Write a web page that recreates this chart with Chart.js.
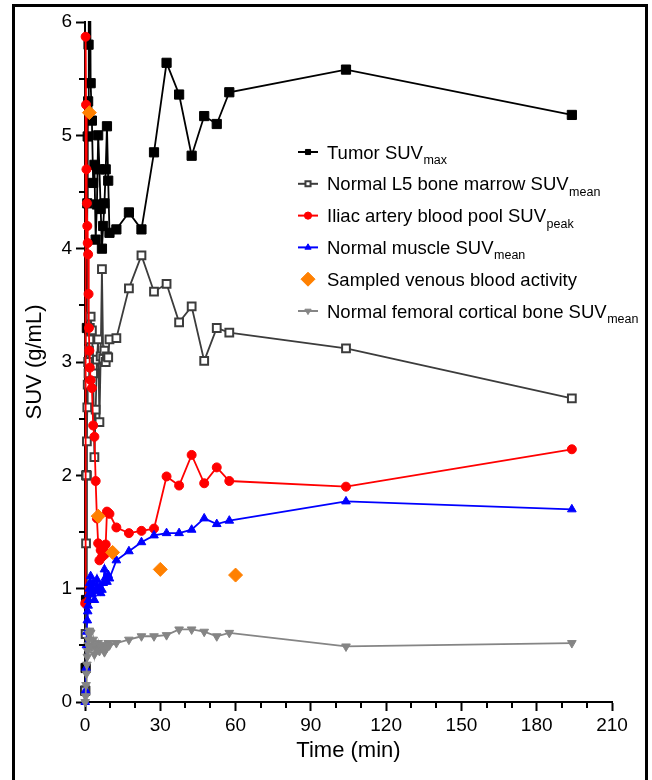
<!DOCTYPE html>
<html>
<head>
<meta charset="utf-8">
<script src="https://cdn.jsdelivr.net/npm/chart.js@4.4.1/dist/chart.umd.min.js"></script>
<style>
  html, body { margin: 0; padding: 0; background: #fff; overflow: hidden; }
  #wrap { position: relative; width: 652px; height: 780px; }
  #frame { position: absolute; left: 12px; top: 4px; width: 630px; height: 800px; border: 3px solid #000; pointer-events: none; }
  canvas { position: absolute; left: 0; top: 0; }
</style>
</head>
<body>
<div id="wrap">
  <canvas id="chart" width="652" height="780"></canvas>
  <div id="frame"></div>
</div>
<script>
// Frame times (min) shared by the PET series
const times = [
  0.08, 0.25, 0.42, 0.58, 0.75, 0.92, 1.08, 1.25, 1.42, 1.58, 1.75, 1.92,
  2.25, 2.75, 3.25, 3.75, 4.25, 4.75, 5.25, 5.75, 6.25, 6.75, 7.25, 7.75, 8.25, 8.75, 9.25, 9.75,
  12.5, 17.5, 22.5, 27.5, 32.5, 37.5, 42.5, 47.5, 52.5, 57.5, 104, 194,
];

const tumorSuvMax = [
  0.1, 0.3, 0.9, 2.0, 3.3, 4.4, 4.99, 5.3, 5.8, 6.6, 7.4, 7.0,
  5.46, 5.13, 4.58, 4.74, 4.08, 4.39, 5.0, 4.7, 4.35, 4.0, 4.2, 4.4, 4.7, 5.08, 4.6, 4.14,
  4.17, 4.32, 4.17, 4.85, 5.64, 5.36, 4.82, 5.17, 5.10, 5.38, 5.58, 5.18,
];

const marrowSuvMean = [
  0.1, 0.6, 1.4, 2.0, 2.3, 2.6, 2.8, 3.0, 2.9, 3.1, 3.2, 3.3,
  3.40, 3.28, 2.9, 2.16, 2.58, 3.02, 3.20, 2.47, 3.05, 3.82, 3.03, 3.10, 3.00, 3.05, 3.04, 3.20,
  3.21, 3.65, 3.94, 3.62, 3.69, 3.35, 3.49, 3.01, 3.30, 3.26, 3.12, 2.68,
];

const iliacSuvPeak = [
  0.87, 5.87, 5.27, 4.7, 4.4, 4.2, 4.05, 3.95, 3.6, 3.3, 3.1, 2.95,
  2.84, 2.77, 2.44, 2.34, 1.95, 1.62, 1.40, 1.25, 1.34, 1.28, 1.35, 1.30, 1.39, 1.68, 1.67, 1.66,
  1.54, 1.49, 1.51, 1.53, 1.99, 1.91, 2.18, 1.93, 2.07, 1.95, 1.90, 2.23,
];

const muscleSuvMean = [
  0.0, 0.1, 0.3, 0.5, 0.62, 0.72, 0.8, 0.85, 0.9, 0.95, 1.0, 1.05,
  1.11, 0.95, 1.05, 0.90, 1.00, 1.08, 0.98, 1.02, 0.96, 0.99, 1.05, 1.17, 1.10, 1.06, 1.12, 1.09,
  1.25, 1.33, 1.41, 1.47, 1.49, 1.49, 1.52, 1.62, 1.57, 1.60, 1.77, 1.70,
];

const femoralSuvMean = [
  0.0, 0.05, 0.15, 0.25, 0.33, 0.40, 0.45, 0.50, 0.55, 0.60, 0.63, 0.62,
  0.61, 0.49, 0.55, 0.42, 0.50, 0.46, 0.52, 0.45, 0.48, 0.50, 0.47, 0.44, 0.50, 0.48, 0.52, 0.50,
  0.52, 0.55, 0.58, 0.58, 0.59, 0.64, 0.64, 0.62, 0.58, 0.61, 0.49, 0.52,
];

// Blood samples were drawn at their own times
const venousTimes = [1.75, 5.25, 11, 30, 60];
const venousActivity = [5.20, 1.64, 1.32, 1.17, 1.12];

const xTicks = { min: 0, max: 210, major: 30, minor: 10 };
const yTicks = { min: 0, max: 6, major: 1, minor: 0.5 };

const FONT = "'Liberation Sans', Arial, Helvetica, sans-serif";

const toPoints = (xs, ys) => xs.map((x, i) => ({ x, y: ys[i] }));

// legend rows: main text + subscript, and which dataset supplies the symbol
const legendRows = [
  { text: "Tumor SUV", sub: "max", ds: 0 },
  { text: "Normal L5 bone marrow SUV", sub: "mean", ds: 1 },
  { text: "Iliac artery blood pool SUV", sub: "peak", ds: 2 },
  { text: "Normal muscle SUV", sub: "mean", ds: 3 },
  { text: "Sampled venous blood activity", sub: "", ds: 4 },
  { text: "Normal femoral cortical bone SUV", sub: "mean", ds: 5 },
];

const CLIP = { left: 12, right: 12, bottom: 12, top: 1 };

const series = (label, xs, ys, style) => ({
  label,
  data: toPoints(xs, ys),
  showLine: true,
  tension: 0,
  borderWidth: 1.8,
  pointBorderWidth: 1,
  clip: CLIP,
  ...style,
});

const datasets = [
  series("Tumor SUVmax", times, tumorSuvMax, {
    borderColor: "#000", backgroundColor: "#000",
    pointStyle: "rect", pointRadius: 6.5, order: 6,
  }),
  series("Normal L5 bone marrow SUVmean", times, marrowSuvMean, {
    borderColor: "#3c3c3c", backgroundColor: "#fff", pointBorderColor: "#3c3c3c",
    pointStyle: "rect", pointRadius: 5.5, pointBorderWidth: 2, order: 5,
  }),
  series("Iliac artery blood pool SUVpeak", times, iliacSuvPeak, {
    borderColor: "#ff0000", backgroundColor: "#ff0000",
    pointStyle: "circle", pointRadius: 4.5, order: 4,
  }),
  series("Normal muscle SUVmean", times, muscleSuvMean, {
    borderColor: "#0000ff", backgroundColor: "#0000ff",
    pointStyle: "triangle", pointRadius: 5, order: 3,
  }),
  series("Sampled venous blood activity", venousTimes, venousActivity, {
    showLine: false, borderColor: "#ff8000", backgroundColor: "#ff8000",
    pointStyle: "rectRot", pointRadius: 7, order: 2,
  }),
  series("Normal femoral cortical bone SUVmean", times, femoralSuvMean, {
    borderColor: "#858585", backgroundColor: "#858585",
    pointStyle: "triangle", pointRotation: 180, pointRadius: 5, order: 1,
  }),
];

// Short outer ticks between the labelled ones
const MINOR_TICKS = {
  id: "minorTicks",
  afterDraw(chart) {
    const { ctx, chartArea, scales } = chart;
    ctx.save();
    ctx.strokeStyle = "#000";
    ctx.lineWidth = 2;
    ctx.beginPath();
    for (let v = xTicks.min + xTicks.minor; v < xTicks.max; v += xTicks.minor) {
      if (v % xTicks.major === 0) continue;
      const px = Math.round(scales.x.getPixelForValue(v));
      ctx.moveTo(px, chartArea.bottom);
      ctx.lineTo(px, chartArea.bottom + 6);
    }
    for (let v = yTicks.min + yTicks.minor; v < yTicks.max; v += yTicks.minor) {
      if (Math.abs(v % yTicks.major) < 1e-9) continue;
      const py = Math.round(scales.y.getPixelForValue(v));
      ctx.moveTo(chartArea.left, py);
      ctx.lineTo(chartArea.left - 6, py);
    }
    ctx.stroke();
    ctx.restore();
  },
};

// Legend with subscripts, which the built-in legend can't do
const SUB_LEGEND = {
  id: "subLegend",
  afterDraw(chart) {
    const { ctx } = chart;
    const x0 = 298, x1 = 318, tx = 327, y0 = 152, dy = 31.8;
    ctx.save();
    legendRows.forEach((row, i) => {
      const ds = chart.data.datasets[row.ds];
      const y = y0 + i * dy;
      if (ds.showLine !== false) {
        ctx.strokeStyle = ds.borderColor;
        ctx.lineWidth = 2;
        ctx.beginPath();
        ctx.moveTo(x0, y);
        ctx.lineTo(x1, y);
        ctx.stroke();
      }
      ctx.fillStyle = ds.backgroundColor;
      ctx.strokeStyle = ds.pointBorderColor || ds.borderColor;
      ctx.lineWidth = ds.pointBorderWidth;
      const small = ds.pointStyle === "rectRot" ? 7 : 3.6;
      Chart.helpers.drawPoint(ctx, {
        pointStyle: ds.pointStyle,
        rotation: ds.pointRotation || 0,
        radius: small,
        borderWidth: ds.pointBorderWidth,
      }, (x0 + x1) / 2, y);

      ctx.fillStyle = "#000";
      ctx.textBaseline = "alphabetic";
      ctx.textAlign = "left";
      ctx.font = `18.5px ${FONT}`;
      ctx.fillText(row.text, tx, y + 6.5);
      if (row.sub) {
        const w = ctx.measureText(row.text).width;
        ctx.font = `12.5px ${FONT}`;
        ctx.fillText(row.sub, tx + w + 0.5, y + 12);
      }
    });
    ctx.restore();
  },
};

new Chart(document.getElementById("chart"), {
  type: "scatter",
  data: { datasets },
  plugins: [MINOR_TICKS, SUB_LEGEND],
  options: {
    responsive: false,
    animation: false,
    devicePixelRatio: 1,
    layout: { padding: { left: 0, right: 40, top: 22, bottom: 0 } },
    plugins: { legend: { display: false }, tooltip: { enabled: false } },
    scales: {
      x: {
        type: "linear",
        min: xTicks.min,
        max: xTicks.max,
        afterFit: (scale) => { scale.height = 78; },
        ticks: {
          stepSize: xTicks.major,
          color: "#000",
          font: { family: FONT, size: 19 },
          padding: 3,
          maxRotation: 0,
          autoSkip: false,
        },
        grid: { drawOnChartArea: false, tickLength: 9, tickWidth: 2, tickColor: "#000" },
        border: { color: "#000", width: 2 },
        title: {
          display: true,
          text: "Time (min)",
          color: "#000",
          font: { family: FONT, size: 22 },
          padding: { top: 0, bottom: 16 },
        },
      },
      y: {
        min: yTicks.min,
        max: yTicks.max,
        afterFit: (scale) => { scale.width = 85; },
        ticks: {
          stepSize: yTicks.major,
          color: "#000",
          font: { family: FONT, size: 19 },
          padding: 4,
        },
        grid: { drawOnChartArea: false, tickLength: 9, tickWidth: 2, tickColor: "#000" },
        border: { color: "#000", width: 2 },
        title: {
          display: true,
          text: "SUV (g/mL)",
          color: "#000",
          font: { family: FONT, size: 22 },
          padding: { top: 22, bottom: 0 },
        },
      },
    },
  },
});
</script>
</body>
</html>
